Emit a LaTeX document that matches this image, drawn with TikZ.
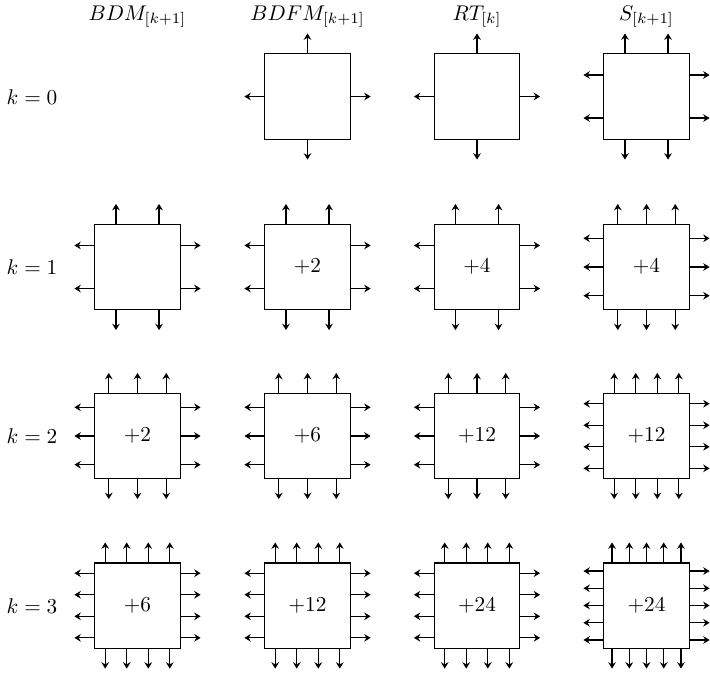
\documentclass[tikz,border=0pt]{standalone}
\usetikzlibrary{calc,arrows.meta}
\tikzset{
  cellbox/.style={draw, minimum size=40pt, inner sep=0pt, line width=0.5pt},
  arr/.style={-{Stealth[length=3pt,width=3.6pt,inset=1pt]}, line width=0.55pt},
  hdr/.style={inner sep=0pt, anchor=base},
  rowlab/.style={inner sep=0pt}
}
\newcommand\mycell[5]{%
  \node[cellbox] (#1) at (#2,#3) {#5};
  \foreach \i in {1,...,#4}{%
    \pgfmathsetmacro\f{(2*\i-1)/(2*#4)}%
    \draw[arr] ($(#1.north west)!\f!(#1.north east)$) -- ++(0,9.4pt);
    \draw[arr] ($(#1.south west)!\f!(#1.south east)$) -- ++(0,-9.4pt);
    \draw[arr] ($(#1.north west)!\f!(#1.south west)$) -- ++(-9.4pt,0);
    \draw[arr] ($(#1.north east)!\f!(#1.south east)$) -- ++(9.4pt,0);
  }%
}
\begin{document}
\begin{tikzpicture}[x=0.47pt, y=-0.47pt]
\useasboundingbox (0,0) rectangle (710,675);
% headers
\node[hdr] (h1) at (137.5,20) {$BDM_{[k+1]}$};
\node[hdr] (h2) at (307.5,20) {$BDFM_{[k+1]}$};
\node[hdr] (h3) at (477,20) {$RT_{[k]}$};
\node[hdr] (h4) at (646.5,20) {$S_{[k+1]}$};
% row labels
\node[rowlab] (r0) at (32,97.5) {$k=0$};
\node[rowlab] (r1) at (32,267.5) {$k=1$};
\node[rowlab] (r2) at (32,436.5) {$k=2$};
\node[rowlab] (r3) at (32,606) {$k=3$};
% row k=0
\mycell{b02}{307.5}{96.5}{1}{}
\mycell{b03}{477}{96.5}{1}{}
\mycell{b04}{646.5}{96.5}{2}{}
% row k=1
\mycell{b11}{137.5}{267}{2}{}
\mycell{b12}{307.5}{267}{2}{$+2$}
\mycell{b13}{477}{267}{2}{$+4$}
\mycell{b14}{646.5}{267}{3}{$+4$}
% row k=2
\mycell{b21}{137.5}{436}{3}{$+2$}
\mycell{b22}{307.5}{436}{3}{$+6$}
\mycell{b23}{477}{436}{3}{$+12$}
\mycell{b24}{646.5}{436}{4}{$+12$}
% row k=3
\mycell{b31}{137.5}{605.5}{4}{$+6$}
\mycell{b32}{307.5}{605.5}{4}{$+12$}
\mycell{b33}{477}{605.5}{4}{$+24$}
\mycell{b34}{646.5}{605.5}{5}{$+24$}
\end{tikzpicture}
\end{document}
